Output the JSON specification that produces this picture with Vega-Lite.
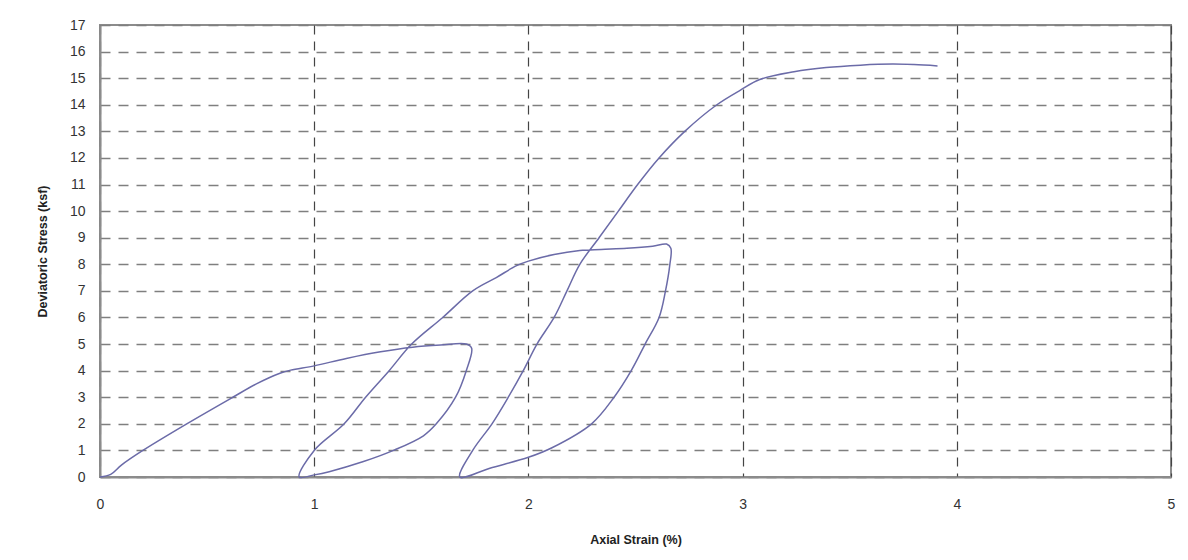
{
  "$schema": "https://vega.github.io/schema/vega-lite/v6.json",
  "width": 1071,
  "height": 452,
  "autosize": {"type": "none"},
  "padding": {"left": 100, "top": 25, "right": 17, "bottom": 83},
  "background": "white",
  "config": {
    "view": {"stroke": "#8c8c8c", "strokeWidth": 2},
    "font": "Liberation Sans",
    "axis": {
      "labelFont": "Liberation Sans",
      "titleFont": "Liberation Sans",
      "labelFontSize": 14,
      "labelColor": "#333333",
      "titleColor": "#222222",
      "titleFontSize": 12.5,
      "titleFontWeight": "bold",
      "ticks": false,
      "domainColor": "#8c8c8c",
      "domainWidth": 2
    },
    "axisX": {"gridColor": "#444444", "gridDash": [9, 7], "gridWidth": 1.2, "gridOpacity": 1},
    "axisY": {"gridColor": "#7f7f7f", "gridDash": [10, 8], "gridWidth": 1.5, "gridOpacity": 1}
  },
  "data": {
    "values": [
      {"i": 0, "strain": 0.0, "stress": 0.0},
      {"i": 1, "strain": 0.05, "stress": 0.1},
      {"i": 2, "strain": 0.1, "stress": 0.45},
      {"i": 3, "strain": 0.2, "stress": 1.0},
      {"i": 4, "strain": 0.405, "stress": 2.0},
      {"i": 5, "strain": 0.62, "stress": 3.0},
      {"i": 6, "strain": 0.73, "stress": 3.5},
      {"i": 7, "strain": 0.84, "stress": 3.9},
      {"i": 8, "strain": 0.89, "stress": 4.02},
      {"i": 9, "strain": 1.0, "stress": 4.18},
      {"i": 10, "strain": 1.15, "stress": 4.46},
      {"i": 11, "strain": 1.31, "stress": 4.71},
      {"i": 12, "strain": 1.46, "stress": 4.88},
      {"i": 13, "strain": 1.59, "stress": 4.96},
      {"i": 14, "strain": 1.71, "stress": 5.0},
      {"i": 15, "strain": 1.735, "stress": 4.84},
      {"i": 16, "strain": 1.71, "stress": 4.0},
      {"i": 17, "strain": 1.66, "stress": 3.0},
      {"i": 18, "strain": 1.57, "stress": 2.0},
      {"i": 19, "strain": 1.51, "stress": 1.55},
      {"i": 20, "strain": 1.37, "stress": 1.0},
      {"i": 21, "strain": 1.23, "stress": 0.58},
      {"i": 22, "strain": 1.07, "stress": 0.2},
      {"i": 23, "strain": 1.0, "stress": 0.08},
      {"i": 24, "strain": 0.93, "stress": 0.0},
      {"i": 25, "strain": 1.0, "stress": 1.0},
      {"i": 26, "strain": 1.14, "stress": 2.0},
      {"i": 27, "strain": 1.24, "stress": 3.0},
      {"i": 28, "strain": 1.35, "stress": 4.0},
      {"i": 29, "strain": 1.455, "stress": 5.0},
      {"i": 30, "strain": 1.6, "stress": 6.0},
      {"i": 31, "strain": 1.74, "stress": 7.0},
      {"i": 32, "strain": 1.85, "stress": 7.5},
      {"i": 33, "strain": 1.945, "stress": 7.95},
      {"i": 34, "strain": 2.0, "stress": 8.12},
      {"i": 35, "strain": 2.12, "stress": 8.37},
      {"i": 36, "strain": 2.24, "stress": 8.52},
      {"i": 37, "strain": 2.34, "stress": 8.56},
      {"i": 38, "strain": 2.46, "stress": 8.6},
      {"i": 39, "strain": 2.58, "stress": 8.68},
      {"i": 40, "strain": 2.645, "stress": 8.76},
      {"i": 41, "strain": 2.665, "stress": 8.6},
      {"i": 42, "strain": 2.66, "stress": 7.97},
      {"i": 43, "strain": 2.64, "stress": 7.0},
      {"i": 44, "strain": 2.61, "stress": 6.0},
      {"i": 45, "strain": 2.545, "stress": 5.0},
      {"i": 46, "strain": 2.48, "stress": 4.0},
      {"i": 47, "strain": 2.4, "stress": 3.0},
      {"i": 48, "strain": 2.295, "stress": 2.0},
      {"i": 49, "strain": 2.11, "stress": 1.1},
      {"i": 50, "strain": 2.0, "stress": 0.74},
      {"i": 51, "strain": 1.82, "stress": 0.33},
      {"i": 52, "strain": 1.68, "stress": 0.0},
      {"i": 53, "strain": 1.74, "stress": 1.0},
      {"i": 54, "strain": 1.83, "stress": 2.0},
      {"i": 55, "strain": 1.906, "stress": 3.0},
      {"i": 56, "strain": 1.976, "stress": 4.0},
      {"i": 57, "strain": 2.04, "stress": 5.0},
      {"i": 58, "strain": 2.12, "stress": 6.0},
      {"i": 59, "strain": 2.18, "stress": 7.0},
      {"i": 60, "strain": 2.24, "stress": 8.0},
      {"i": 61, "strain": 2.33, "stress": 9.0},
      {"i": 62, "strain": 2.42, "stress": 10.0},
      {"i": 63, "strain": 2.51, "stress": 11.0},
      {"i": 64, "strain": 2.61, "stress": 12.0},
      {"i": 65, "strain": 2.73, "stress": 13.0},
      {"i": 66, "strain": 2.88, "stress": 14.0},
      {"i": 67, "strain": 2.99, "stress": 14.55},
      {"i": 68, "strain": 3.08, "stress": 14.95},
      {"i": 69, "strain": 3.24, "stress": 15.24},
      {"i": 70, "strain": 3.39, "stress": 15.4},
      {"i": 71, "strain": 3.55, "stress": 15.49},
      {"i": 72, "strain": 3.7, "stress": 15.53},
      {"i": 73, "strain": 3.8, "stress": 15.51},
      {"i": 74, "strain": 3.91, "stress": 15.46}
    ]
  },
  "mark": {"type": "line", "color": "#6b6ba8", "strokeWidth": 1.5, "interpolate": "catmull-rom"},
  "encoding": {
    "x": {
      "field": "strain",
      "type": "quantitative",
      "scale": {"domain": [0, 5], "nice": false},
      "axis": {"title": "Axial Strain (%)", "values": [0, 1, 2, 3, 4, 5], "labelPadding": 20, "titlePadding": 22, "labelFlush": false}
    },
    "y": {
      "field": "stress",
      "type": "quantitative",
      "scale": {"domain": [0, 17], "nice": false},
      "axis": {"title": "Deviatoric Stress (ksf)", "values": [0, 1, 2, 3, 4, 5, 6, 7, 8, 9, 10, 11, 12, 13, 14, 15, 16, 17], "labelPadding": 15, "titlePadding": 20, "labelFlush": false}
    },
    "order": {"field": "i", "type": "quantitative"}
  }
}
